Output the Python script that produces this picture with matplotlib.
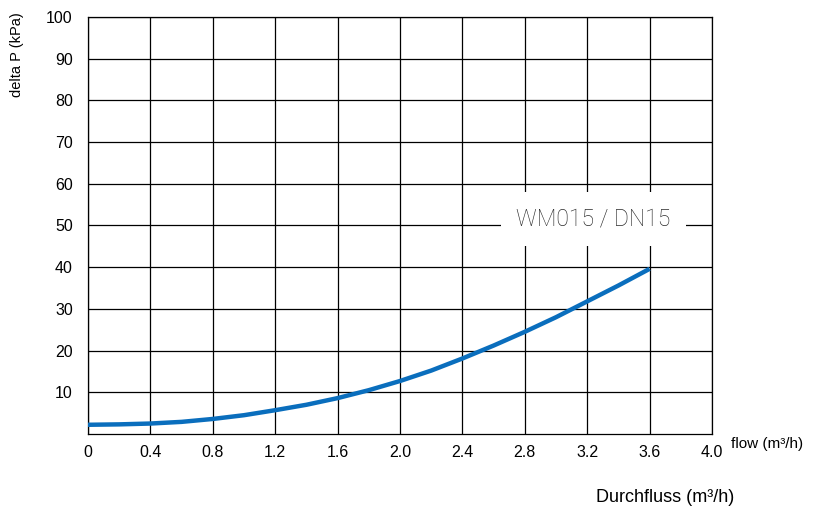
import matplotlib.pyplot as plt

plt.rcParams['font.family'] = ['Liberation Sans', 'DejaVu Sans']

# flow (m3/h) vs pressure drop (kPa)
flow = [0.0, 0.2, 0.4, 0.6, 0.8, 1.0, 1.2, 1.4, 1.6, 1.8, 2.0, 2.2, 2.4, 2.6, 2.8, 3.0, 3.2, 3.4, 3.6]
dp = [2.2, 2.3, 2.5, 2.9, 3.6, 4.5, 5.7, 7.0, 8.6, 10.5, 12.7, 15.2, 18.1, 21.2, 24.5, 28.0, 31.8, 35.6, 39.6]

xticks = [0, 0.4, 0.8, 1.2, 1.6, 2.0, 2.4, 2.8, 3.2, 3.6, 4.0]
xlabels = ['0', '0.4', '0.8', '1.2', '1.6', '2.0', '2.4', '2.8', '3.2', '3.6', '4.0']
yticks = [10, 20, 30, 40, 50, 60, 70, 80, 90, 100]

fig = plt.figure(figsize=(8.15, 5.16), dpi=100)
ax = fig.add_axes([0.108, 0.159, 0.7656, 0.808])

ax.plot(flow, dp, color='#0a6ebd', lw=3.2, solid_capstyle='butt', zorder=3)

ax.set_xlim(0, 4.0)
ax.set_ylim(0, 100)
ax.set_xticks(xticks)
ax.set_xticklabels(xlabels)
ax.set_yticks(yticks)
ax.grid(True, color='black', lw=0.9)
ax.tick_params(length=0, labelsize=11.5)
ax.tick_params(axis='y', pad=11)
ax.tick_params(axis='x', pad=8)
for s in ax.spines.values():
    s.set_color('black')
    s.set_linewidth(0.9)

ax.text(3.24, 51.6, 'WM015 / DN15', fontsize=16.5, color='#2a2a2a',
        family=['Roboto', 'Liberation Sans'], fontweight='light',
        ha='center', va='center', zorder=4,
        bbox=dict(facecolor='white', edgecolor='none', pad=11))

fig.text(731 / 815, 1 - 444 / 516, 'flow (m³/h)', fontsize=11, ha='left', va='center')
fig.text(665 / 815, 1 - 498 / 516, 'Durchfluss (m³/h)', fontsize=13, ha='center', va='center')
fig.text(17 / 815, 1 - 55 / 516, 'delta P (kPa)', fontsize=10.5, rotation=90, ha='center', va='center')

fig.savefig('out.png', dpi=100)
